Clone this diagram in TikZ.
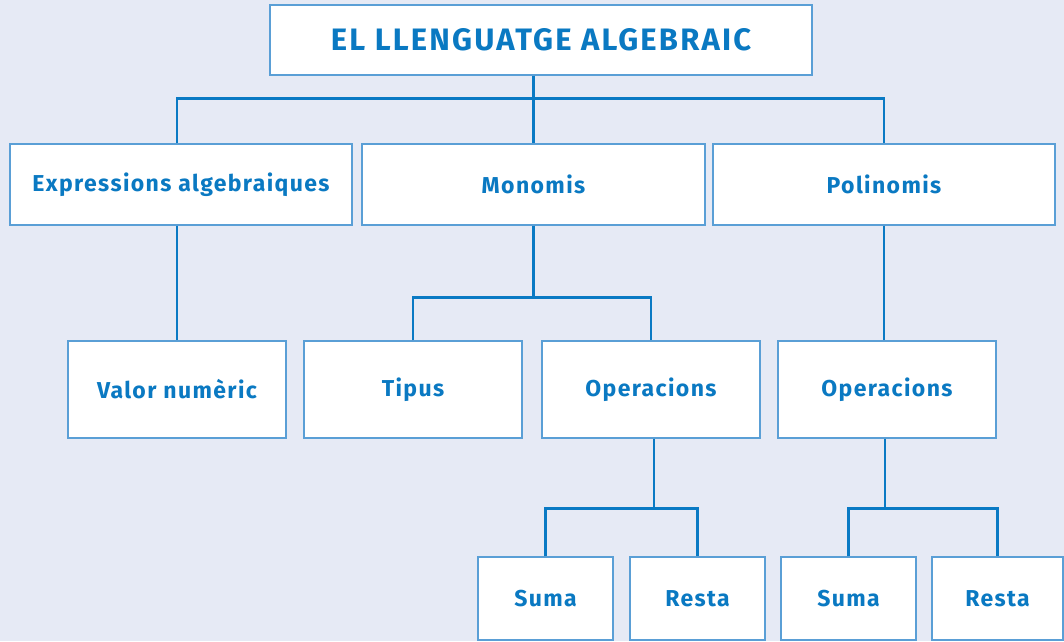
\documentclass[tikz,border=0pt]{standalone}
\usepackage{fontspec}
\setmainfont{Fira Sans}[LetterSpace=6]
\newfontfamily\titlefont{Fira Sans}[LetterSpace=7]
\usetikzlibrary{positioning}
\definecolor{bgblue}{HTML}{E6EAF5}
\definecolor{lineblue}{HTML}{0A7AC4}
\definecolor{boxblue}{HTML}{5A9FD6}
\definecolor{txtblue}{HTML}{0A79C2}
\tikzset{
  box/.style={draw=boxblue, line width=1.2pt, fill=white, text=txtblue,
    font=\fontsize{23}{27}\selectfont\bfseries, inner sep=0pt},
  link/.style={draw=lineblue, line width=2.6pt}
}
\begin{document}
\begin{tikzpicture}[x=1pt, y=-1pt]
\fill[bgblue] (0,0) rectangle (1064,641);
\useasboundingbox (0,0) rectangle (1064,641);

% top level
\node[box, minimum width=542pt, minimum height=70pt,
  font=\titlefont\fontsize{31}{35}\selectfont\bfseries] (title) at (541,40) {EL LLENGUATGE ALGEBRAIC};

% first row
\node[box, minimum width=342pt, minimum height=81pt] (exp) at (181,184.5) {Expressions algebraiques};
\node[box, minimum width=343pt, minimum height=81pt] (mon) at (533.5,184.5) {Monomis};
\node[box, minimum width=342pt, minimum height=81pt] (pol) at (884,184.5) {Polinomis};

% second row
\node[box, minimum width=218pt, minimum height=97pt] (val) at (177,389.5) {Valor numèric};
\node[box, minimum width=218pt, minimum height=97pt] (tip) at (413,389.5) {Tipus};
\node[box, minimum width=218pt, minimum height=97pt] (opm) at (651,389.5) {Operacions};
\node[box, minimum width=218pt, minimum height=97pt] (opp) at (887,389.5) {Operacions};

% third row
\node[box, minimum width=135pt, minimum height=83pt] (sumam) at (545.5,598.5) {Suma};
\node[box, minimum width=135pt, minimum height=83pt] (restam) at (697.5,598.5) {Resta};
\node[box, minimum width=135pt, minimum height=83pt] (sumap) at (848.5,598.5) {Suma};
\node[box, minimum width=131pt, minimum height=83pt] (restap) at (997.5,598.5) {Resta};

% connectors
\draw[link] (title.south -| mon.north) -- (mon.north);
\draw[link] (exp.north -| val.north) -- ++(0,-45) -| (pol.north);
\draw[link] (exp.south -| val.north) -- (val.north);
\draw[link] (mon.south) -- ++(0,72) coordinate (mb);
\draw[link] (tip.north) |- (mb) -| (opm.north);
\draw[link] (pol.south) -- (pol.south |- opp.north);
\draw[link] ([xshift=3pt]opm.south) -- ++(0,70) coordinate (ob);
\draw[link] (sumam.north) |- (ob) -| (restam.north);
\draw[link] ([xshift=-2pt]opp.south) -- ++(0,70) coordinate (pb);
\draw[link] (sumap.north) |- (pb) -| (restap.north);
\end{tikzpicture}
\end{document}
